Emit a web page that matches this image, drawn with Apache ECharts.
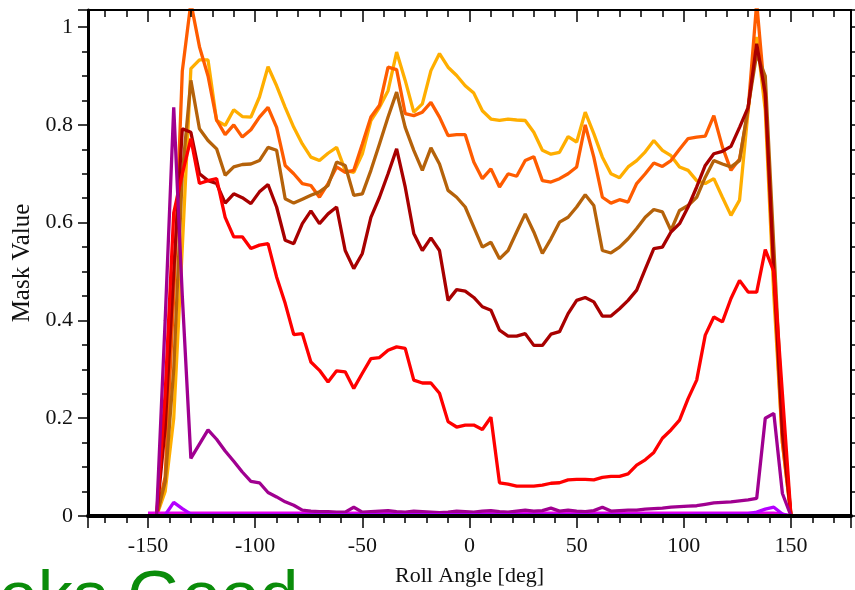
<!DOCTYPE html>
<html><head><meta charset="utf-8">
<script src="https://cdn.jsdelivr.net/npm/echarts@6/dist/echarts.min.js"></script>
<style>html,body{margin:0;padding:0;background:#fff}#c{width:855px;height:590px}</style>
</head><body><div id="c"></div>
<script>
const angles = [-150,-146,-142,-138,-134,-130,-126,-122,-118,-114,-110,-106,-102,-98,-94,-90,-86,-82,-78,-74,-70,-66,-62,-58,-54,-50,-46,-42,-38,-34,-30,-26,-22,-18,-14,-10,-6,-2,2,6,10,14,18,22,26,30,34,38,42,46,50,54,58,62,66,70,74,78,82,86,90,94,98,102,106,110,114,118,122,126,130,134,138,142,146,150];

const yellowVals = [0,0,0.05,0.2,0.55,0.915,0.933,0.933,0.809,0.799,
0.831,0.817,0.816,0.857,0.919,0.880,0.836,0.795,0.761,0.734,
0.727,0.742,0.754,0.707,0.703,0.741,0.809,0.836,0.870,0.949,
0.891,0.826,0.843,0.911,0.946,0.918,0.901,0.880,0.865,0.829,
0.812,0.809,0.812,0.810,0.809,0.785,0.748,0.740,0.744,0.776,
0.765,0.826,0.782,0.734,0.700,0.692,0.714,0.727,0.745,0.768,
0.748,0.737,0.714,0.707,0.686,0.680,0.690,0.652,0.615,0.646,
0.829,0.98,0.83,0.45,0.15,0];

const orangeVals = [0,0,0.08,0.45,0.91,1.05,0.96,0.90,0.81,0.78,
0.80,0.775,0.79,0.816,0.836,0.795,0.717,0.70,0.68,0.676,
0.652,0.68,0.714,0.703,0.707,0.761,0.816,0.84,0.918,0.913,
0.823,0.819,0.826,0.846,0.816,0.778,0.78,0.78,0.724,0.69,
0.71,0.673,0.70,0.695,0.727,0.735,0.686,0.683,0.69,0.70,
0.714,0.80,0.734,0.652,0.64,0.647,0.642,0.68,0.70,0.722,
0.715,0.727,0.75,0.772,0.775,0.777,0.819,0.755,0.707,0.73,
0.83,1.05,0.85,0.48,0.15,0];

const brownVals = [0,0,0.07,0.3,0.7,0.891,0.792,0.768,0.751,0.697,
0.714,0.719,0.72,0.727,0.754,0.748,0.649,0.640,0.648,0.656,
0.663,0.676,0.724,0.717,0.656,0.659,0.707,0.761,0.816,0.867,
0.795,0.748,0.707,0.753,0.720,0.666,0.652,0.632,0.591,0.550,
0.560,0.526,0.543,0.581,0.618,0.581,0.537,0.567,0.601,0.611,
0.632,0.657,0.635,0.543,0.538,0.550,0.567,0.588,0.611,0.627,
0.622,0.584,0.625,0.635,0.652,0.693,0.727,0.720,0.714,0.727,
0.836,0.945,0.90,0.55,0.2,0];

const darkRedVals = [0,0,0.18,0.5,0.792,0.785,0.700,0.686,0.680,0.640,
0.659,0.651,0.639,0.663,0.678,0.632,0.564,0.557,0.598,0.624,
0.598,0.618,0.632,0.543,0.506,0.537,0.611,0.652,0.700,0.751,
0.673,0.578,0.543,0.569,0.543,0.441,0.463,0.46,0.447,0.428,
0.421,0.38,0.368,0.368,0.373,0.349,0.349,0.372,0.377,0.414,
0.441,0.447,0.438,0.409,0.409,0.424,0.441,0.462,0.505,0.547,
0.550,0.581,0.598,0.632,0.673,0.717,0.741,0.746,0.756,0.795,
0.836,0.966,0.864,0.5,0.17,0];

const redVals = [0,0,0.25,0.62,0.70,0.772,0.680,0.686,0.690,0.611,
0.571,0.571,0.547,0.554,0.557,0.489,0.435,0.371,0.373,0.315,
0.298,0.274,0.297,0.295,0.261,0.292,0.322,0.324,0.339,0.346,
0.343,0.278,0.272,0.272,0.251,0.193,0.182,0.186,0.186,0.177,
0.202,0.068,0.065,0.061,0.061,0.061,0.063,0.067,0.068,0.074,
0.075,0.075,0.074,0.079,0.081,0.081,0.086,0.104,0.115,0.13,
0.159,0.176,0.196,0.240,0.278,0.370,0.407,0.397,0.445,0.482,
0.458,0.458,0.545,0.50,0.25,0];

const purpleVals = [0,0,0.40,0.836,0.45,0.118,0.147,0.176,0.157,0.133,
0.112,0.09,0.071,0.068,0.048,0.039,0.029,0.022,0.012,0.010,
0.009,0.009,0.008,0.008,0.018,0.008,0.009,0.010,0.011,0.009,
0.008,0.010,0.009,0.008,0.007,0.008,0.010,0.009,0.008,0.010,
0.011,0.009,0.008,0.010,0.012,0.010,0.011,0.016,0.010,0.012,
0.010,0.009,0.011,0.018,0.010,0.011,0.012,0.012,0.014,0.015,
0.016,0.018,0.019,0.020,0.021,0.024,0.027,0.028,0.029,0.031,
0.033,0.036,0.200,0.210,0.046,0];

const violetVals = [0,0,0.002,0.028,0.015,0.004,0.003,0.003,0.003,0.003,
0.003,0.003,0.003,0.003,0.003,0.003,0.003,0.003,0.003,0.003,
0.003,0.003,0.003,0.003,0.003,0.003,0.003,0.003,0.003,0.003,
0.003,0.003,0.003,0.003,0.003,0.003,0.003,0.003,0.003,0.003,
0.003,0.003,0.003,0.003,0.003,0.003,0.003,0.003,0.003,0.003,
0.003,0.003,0.003,0.003,0.003,0.003,0.003,0.003,0.003,0.003,
0.003,0.003,0.003,0.003,0.004,0.004,0.004,0.004,0.004,0.004,
0.005,0.008,0.014,0.018,0.004,0];

const magentaVals = [0.006,0.006,0.006,0.006,0.006,0.006,0.006,0.006,0.006,0.006,
0.006,0.006,0.006,0.006,0.006,0.006,0.006,0.006,0.006,0.006,
0.006,0.006,0.006,0.006,0.006,0.006,0.006,0.006,0.006,0.006,
0.006,0.006,0.006,0.006,0.006,0.006,0.006,0.006,0.006,0.006,
0.006,0.006,0.006,0.006,0.006,0.006,0.006,0.006,0.006,0.006,
0.006,0.006,0.006,0.006,0.006,0.006,0.006,0.006,0.006,0.006,
0.006,0.006,0.006,0.006,0.006,0.006,0.006,0.006,0.006,0.006,
0.006,0.006,0.006,0.006,0.004,0];

const xTitle = 'Roll Angle [deg]';
const yTitle = 'Mask Value';
const stamp = 'Looks Good';

const seriesDefs = [
  {name:'s1', vals: yellowVals, color:'#FFAE00'},
  {name:'s2', vals: orangeVals, color:'#FF5C00'},
  {name:'s3', vals: brownVals, color:'#B5620A'},
  {name:'s4', vals: darkRedVals, color:'#A80000'},
  {name:'s5', vals: redVals, color:'#FF0000'},
  {name:'s6', vals: magentaVals, color:'#E600E6'},
  {name:'s7', vals: purpleVals, color:'#A00090'},
  {name:'s8', vals: violetVals, color:'#B400FF'}
];
seriesDefs.forEach(s => { if (s.vals.length !== angles.length) throw new Error(s.name + ' length ' + s.vals.length); });

const serif = '"Liberation Serif", "Times New Roman", serif';
const lab = {fontFamily: serif, fontSize: 22, color: '#111'};
const tickLine = {color:'#000', width:1.5};

const xBase = {type:'value', min:-178, max:178, splitNumber:7, splitLine:{show:false}, z:10};
const yBase = {type:'value', min:0, max:1.035, interval:0.2, splitLine:{show:false}, z:10};

const chart = echarts.init(document.getElementById('c'), null, {renderer:'canvas'});
chart.setOption({
  animation:false,
  backgroundColor:'#fff',
  grid:{left:88, right:4, top:10, bottom:74, containLabel:false, outerBoundsMode:'none'},
  xAxis:[
    Object.assign({}, xBase, {
      position:'bottom',
      name:xTitle, nameLocation:'middle', nameGap:49, nameTextStyle:lab,
      axisLine:{show:true, onZero:false, lineStyle:{color:'#000', width:4}},
      axisTick:{show:true, length:12, lineStyle:tickLine},
      minorTick:{show:true, splitNumber:5, length:7, lineStyle:tickLine},
      axisLabel:Object.assign({}, lab, {margin:19, showMinLabel:false, showMaxLabel:false,
        formatter: v => (Math.abs(v) % 50 === 0 ? String(v) : '')})
    }),
    Object.assign({}, xBase, {
      position:'top',
      axisLine:{show:true, onZero:false, lineStyle:{color:'#000', width:2}},
      axisTick:{show:true, inside:true, length:12, lineStyle:tickLine},
      minorTick:{show:true, splitNumber:5, length:7, lineStyle:tickLine},
      axisLabel:{show:false}
    })
  ],
  yAxis:[
    Object.assign({}, yBase, {
      position:'left',
      name:yTitle, nameLocation:'middle', nameGap:48,
      nameTextStyle:{fontFamily: serif, fontSize: 25, color: '#111'},
      axisLine:{show:true, onZero:false, lineStyle:{color:'#000', width:3}},
      axisTick:{show:true, length:10, lineStyle:tickLine},
      minorTick:{show:true, splitNumber:4, length:6, lineStyle:tickLine},
      axisLabel:Object.assign({}, lab, {margin:15, showMaxLabel:false,
        formatter: v => (Math.abs(v*5 - Math.round(v*5)) < 1e-6 ? String(+v.toFixed(1)) : '')})
    }),
    Object.assign({}, yBase, {
      position:'right',
      axisLine:{show:true, onZero:false, lineStyle:{color:'#000', width:2}},
      axisTick:{show:true, length:8, lineStyle:tickLine},
      minorTick:{show:true, splitNumber:4, length:5, lineStyle:tickLine},
      axisLabel:{show:false}
    })
  ],
  series: seriesDefs.map(s => ({
    name:s.name, type:'line', xAxisIndex:0, yAxisIndex:0,
    data: angles.map((a,i) => [a, s.vals[i]]),
    symbol:'none', clip:true, z:2,
    lineStyle:{color:s.color, width:3.3},
    itemStyle:{color:s.color}
  })),
  graphic:[{
    type:'text', x:-79, y:566, z:100, silent:true,
    style:{text:stamp, font:'70px "Liberation Sans", Arial, sans-serif', fill:'#0a8c0a', verticalAlign:'top', align:'left'}
  }]
});
</script>
</body></html>
